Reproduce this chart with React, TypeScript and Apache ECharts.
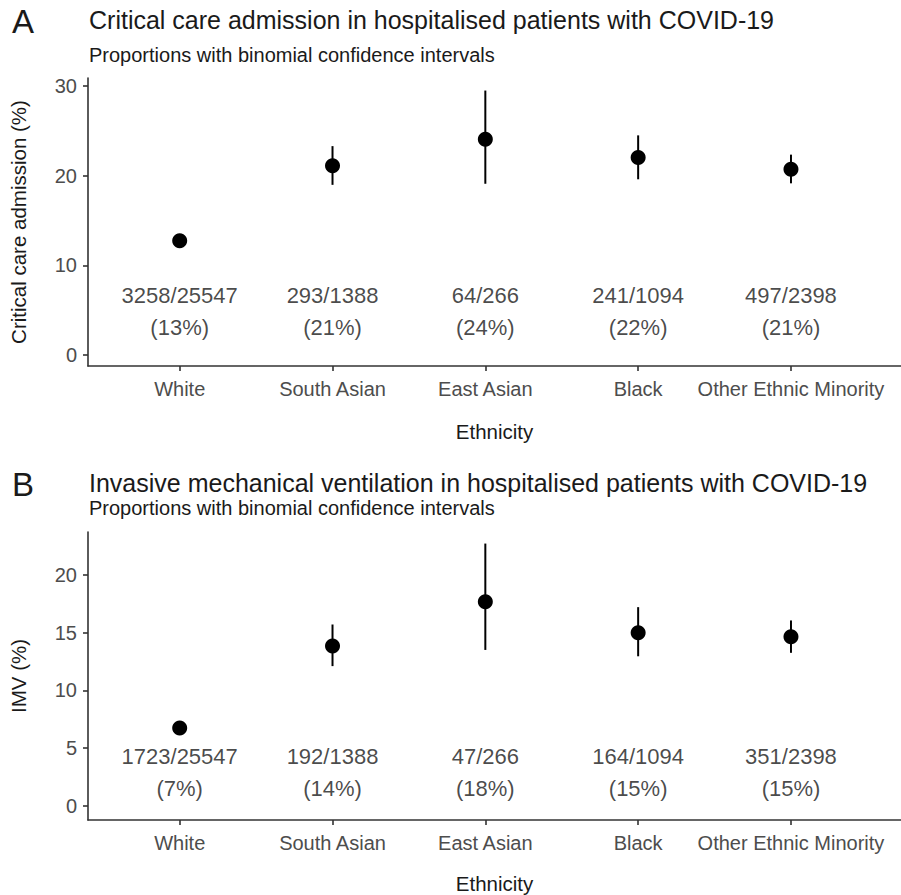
import React, { useEffect, useRef } from "react";
import * as echarts from "echarts";

// Ethnic groups on the x axis
const ethnicities = ["White", "South Asian", "East Asian", "Black", "Other Ethnic Minority"];

// Critical care admission: counts, proportion (%) and 95% binomial CI
const ccEvents = [3258, 293, 64, 241, 497];
const ccTotals = [25547, 1388, 266, 1094, 2398];
const ccPct = [12.75, 21.1, 24.06, 22.03, 20.73];
const ccLow = [12.34, 18.98, 19.1, 19.6, 19.15];
const ccHigh = [13.17, 23.3, 29.5, 24.5, 22.35];

// Invasive mechanical ventilation: counts, proportion (%) and 95% binomial CI
const imvEvents = [1723, 192, 47, 164, 351];
const imvTotals = [25547, 1388, 266, 1094, 2398];
const imvPct = [6.74, 13.83, 17.67, 14.99, 14.64];
const imvLow = [6.44, 12.1, 13.5, 12.95, 13.25];
const imvHigh = [7.06, 15.7, 22.7, 17.2, 16.05];

// Tick values
const ccTicks = [0, 10, 20, 30];
const imvTicks = [0, 5, 10, 15, 20];
const xTicks = [0, 1, 2, 3, 4];

const FONT = "Liberation Sans";
const INK = "#1a1a1a";
const AXIS = "#333333";
const TICKTEXT = "#4d4d4d";

function panelSeries(
  idx: number,
  pct: number[],
  low: number[],
  high: number[],
  events: number[],
  totals: number[],
  labelY: number
): any[] {
  return [
    {
      type: "custom",
      xAxisIndex: idx,
      yAxisIndex: idx,
      data: pct.map((_, i) => [i, low[i], high[i]]),
      renderItem: (_params: any, api: any) => {
        const a = api.coord([api.value(0), api.value(1)]);
        const b = api.coord([api.value(0), api.value(2)]);
        return {
          type: "line",
          shape: { x1: a[0], y1: a[1], x2: b[0], y2: b[1] },
          style: { stroke: "#000", lineWidth: 2 },
        };
      },
      silent: true,
      z: 2,
    },
    {
      type: "scatter",
      xAxisIndex: idx,
      yAxisIndex: idx,
      data: pct.map((v, i) => [i, v]),
      symbol: "circle",
      symbolSize: 15,
      itemStyle: { color: "#000", opacity: 1 },
      silent: true,
      z: 3,
    },
    {
      type: "scatter",
      xAxisIndex: idx,
      yAxisIndex: idx,
      data: pct.map((v, i) => [i, labelY, events[i], totals[i], Math.round(v)]),
      symbolSize: 0,
      silent: true,
      label: {
        show: true,
        position: "inside",
        fontFamily: FONT,
        fontSize: 22,
        color: INK,
        lineHeight: 32,
        align: "center",
        verticalAlign: "middle",
        formatter: (p: any) => `${p.value[2]}/${p.value[3]}\n(${p.value[4]}%)`,
      },
      z: 4,
    },
  ];
}

function xAxisFor(idx: number, gap: number): any {
  return {
    type: "value",
    gridIndex: idx,
    min: -0.6,
    max: 4.72,
    name: "Ethnicity",
    nameLocation: "middle",
    nameGap: gap,
    nameTextStyle: { fontFamily: FONT, fontSize: 20.5, color: INK },
    splitLine: { show: false },
    axisLine: { show: true, onZero: false, lineStyle: { color: AXIS, width: 1.6 } },
    axisTick: { show: true, length: 5, customValues: xTicks, lineStyle: { color: AXIS, width: 1.6 } },
    axisLabel: {
      customValues: xTicks,
      margin: 13,
      fontFamily: FONT,
      fontSize: 20,
      color: TICKTEXT,
      formatter: (v: number) => ethnicities[Math.round(v)] ?? "",
    },
  };
}

function yAxisFor(idx: number, name: string, min: number, max: number, ticks: number[]): any {
  return {
    type: "value",
    gridIndex: idx,
    min,
    max,
    name,
    nameLocation: "middle",
    nameGap: 59,
    nameTextStyle: { fontFamily: FONT, fontSize: 20.5, color: INK },
    splitLine: { show: false },
    axisLine: { show: true, onZero: false, lineStyle: { color: AXIS, width: 1.6 } },
    axisTick: { show: true, length: 5, customValues: ticks, lineStyle: { color: AXIS, width: 1.6 } },
    axisLabel: {
      customValues: ticks,
      margin: 11,
      fontFamily: FONT,
      fontSize: 20,
      color: TICKTEXT,
    },
  };
}

export default function App() {
  const ref = useRef<HTMLDivElement>(null);

  useEffect(() => {
    if (!ref.current) return;
    const chart = echarts.init(ref.current, null, { renderer: "svg" });
    const titleBase = { fontFamily: FONT, color: INK, fontWeight: "normal" as const };
    chart.setOption({
      animation: false,
      backgroundColor: "#ffffff",
      title: [
        { text: "A", left: 7, top: 0, textStyle: { ...titleBase, fontSize: 33 } },
        {
          text: "Critical care admission in hospitalised patients with COVID-19",
          left: 84,
          top: 2.5,
          textStyle: { ...titleBase, fontSize: 25 },
        },
        {
          text: "Proportions with binomial confidence intervals",
          left: 84,
          top: 40,
          textStyle: { ...titleBase, fontSize: 20 },
        },
        { text: "B", left: 7, top: 463, textStyle: { ...titleBase, fontSize: 33 } },
        {
          text: "Invasive mechanical ventilation in hospitalised patients with COVID-19",
          left: 84,
          top: 465.5,
          textStyle: { ...titleBase, fontSize: 25 },
        },
        {
          text: "Proportions with binomial confidence intervals",
          left: 84,
          top: 493,
          textStyle: { ...titleBase, fontSize: 20 },
        },
      ],
      grid: [
        { left: 88, top: 78, width: 813, height: 288 },
        { left: 88, top: 532, width: 813, height: 289 },
      ],
      xAxis: [xAxisFor(0, 55), xAxisFor(1, 53)],
      yAxis: [
        yAxisFor(0, "Critical care admission (%)", -1.23, 30.9, ccTicks),
        yAxisFor(1, "IMV (%)", -1.21, 23.7, imvTicks),
      ],
      series: [
        ...panelSeries(0, ccPct, ccLow, ccHigh, ccEvents, ccTotals, 4.8),
        ...panelSeries(1, imvPct, imvLow, imvHigh, imvEvents, imvTotals, 2.9),
      ],
    });
    return () => chart.dispose();
  }, []);

  return <div ref={ref} style={{ width: 901, height: 895, position: "absolute", left: 0, top: 0 }} />;
}
